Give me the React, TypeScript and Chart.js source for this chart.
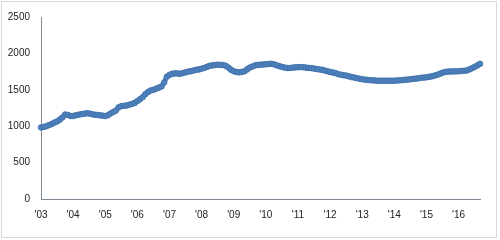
import React, { useEffect, useRef } from "react";
import { Chart, registerables } from "chart.js";

Chart.register(...registerables);

const YEARS = ["03", "04", "05", "06", "07", "08", "09", "10", "11", "12", "13", "14", "15", "16"];
const YEAR_TICKS = ["'03", "'04", "'05", "'06", "'07", "'08", "'09", "'10", "'11", "'12", "'13", "'14", "'15", "'16"];

const V2003 = [983, 990, 1000, 1015, 1030, 1050, 1065, 1090, 1120, 1160, 1155, 1140];
const V2004 = [1140, 1150, 1158, 1165, 1170, 1178, 1175, 1165, 1158, 1155, 1150, 1145];
const V2005 = [1140, 1150, 1175, 1195, 1215, 1260, 1275, 1280, 1285, 1295, 1305, 1320];
const V2006 = [1345, 1370, 1400, 1440, 1470, 1490, 1500, 1515, 1530, 1545, 1600, 1680];
const V2007 = [1705, 1720, 1725, 1725, 1720, 1730, 1740, 1750, 1755, 1765, 1775, 1780];
const V2008 = [1790, 1800, 1815, 1830, 1835, 1840, 1845, 1842, 1840, 1830, 1805, 1775];
const V2009 = [1755, 1745, 1740, 1745, 1755, 1780, 1805, 1820, 1835, 1842, 1845, 1848];
const V2010 = [1850, 1855, 1857, 1850, 1838, 1825, 1815, 1805, 1800, 1800, 1805, 1808];
const V2011 = [1810, 1812, 1810, 1805, 1800, 1798, 1792, 1785, 1780, 1775, 1765, 1755];
const V2012 = [1745, 1738, 1730, 1715, 1708, 1700, 1695, 1685, 1675, 1668, 1660, 1652];
const V2013 = [1645, 1640, 1636, 1632, 1630, 1627, 1625, 1625, 1625, 1626, 1625, 1625];
const V2014 = [1626, 1628, 1630, 1633, 1638, 1640, 1645, 1650, 1653, 1658, 1665, 1668];
const V2015 = [1671, 1678, 1685, 1695, 1705, 1720, 1735, 1745, 1750, 1752, 1753, 1753];
const V2016 = [1755, 1758, 1762, 1765, 1780, 1795, 1815, 1835, 1857];

const SERIES = [
  ...V2003, ...V2004, ...V2005, ...V2006, ...V2007, ...V2008, ...V2009,
  ...V2010, ...V2011, ...V2012, ...V2013, ...V2014, ...V2015, ...V2016,
];

const MONTH_LABELS: string[] = SERIES.map((_, i) => {
  const y = YEARS[Math.floor(i / 12)];
  const m = (i % 12) + 1;
  return `20${y}-${m < 10 ? "0" + m : m}`;
});

export default function App() {
  const ref = useRef<HTMLCanvasElement | null>(null);

  useEffect(() => {
    document.body.style.margin = "0";
    const canvas = ref.current;
    if (!canvas) return;
    const chart = new Chart(canvas, {
      type: "line",
      data: {
        labels: MONTH_LABELS,
        datasets: [
          {
            data: SERIES,
            borderColor: "#4F81BD",
            borderWidth: 5,
            pointRadius: 2.8,
            pointBackgroundColor: "#4F81BD",
            pointBorderColor: "#4273ae",
            pointBorderWidth: 1,
            tension: 0,
            fill: false,
          },
        ],
      },
      options: {
        animation: false,
        responsive: false,
        maintainAspectRatio: false,
        layout: { padding: { top: 15, right: 20, bottom: 0, left: 0 } },
        plugins: { legend: { display: false }, tooltip: { enabled: false } },
        scales: {
          x: {
            type: "category",
            offset: false,
            grid: { display: false, drawTicks: false },
            border: { display: true, color: "#7f8a96", width: 1 },
            ticks: {
              autoSkip: false,
              maxRotation: 0,
              minRotation: 0,
              padding: 10,
              color: "#222",
              font: { family: "Liberation Sans", size: 10 },
              callback: (_v: any, i: number) => (i % 12 === 0 ? YEAR_TICKS[i / 12] : ""),
            },
            afterFit: (s: any) => {
              s.height = 41;
            },
          },
          y: {
            min: 0,
            max: 2500,
            grid: { display: false, drawTicks: false },
            border: { display: true, color: "#7f8a96", width: 1 },
            ticks: {
              stepSize: 500,
              padding: 11,
              color: "#222",
              font: { family: "Liberation Sans", size: 10 },
              callback: (v: any) => String(v),
            },
            afterFit: (s: any) => {
              s.width = 41;
            },
          },
        },
      },
    });
    return () => chart.destroy();
  }, []);

  return (
    <div style={{ position: "relative", width: 500, height: 240, background: "#fff" }}>
      <div
        style={{
          position: "absolute",
          left: 1,
          top: 1,
          width: 494,
          height: 235,
          border: "1px solid #d9d9d9",
          pointerEvents: "none",
        }}
      />
      <canvas ref={ref} width={500} height={240} style={{ position: "absolute", left: 0, top: 0 }} />
    </div>
  );
}
